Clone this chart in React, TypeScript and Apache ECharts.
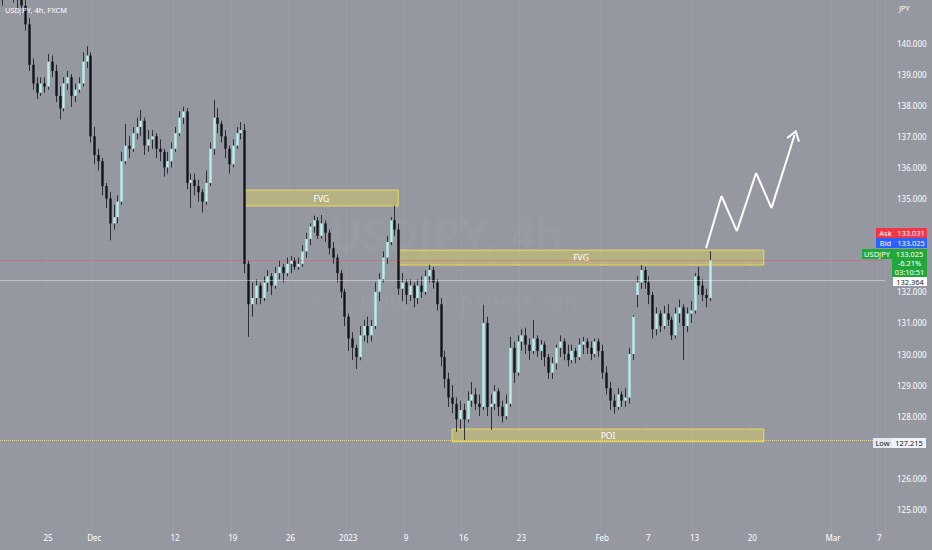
import { useEffect, useRef } from 'react';
import * as echarts from 'echarts';

// USDJPY, 8h bars: [open, close, low, high]
const weekNov21 = [
  [141.4, 141.6, 141.2, 141.9], [141.6, 141.9, 141.5, 142.1], [141.9, 142.0, 141.7, 142.3],
  [142.0, 141.6, 141.3, 142.2], [141.6, 141.4, 141.1, 141.8], [141.4, 141.2, 140.9, 141.5],
  [141.2, 140.6, 140.4, 141.4], [140.6, 139.3, 139.1, 140.8], [139.3, 138.7, 138.5, 139.5],
  [138.7, 138.4, 138.2, 138.9], [138.4, 138.7, 138.3, 138.9], [138.7, 138.6, 138.4, 138.9],
  [138.6, 139.4, 138.5, 139.65], [139.4, 139.1, 138.9, 139.6], [139.1, 138.3, 138.1, 139.3],
];
const weekNov28 = [
  [138.3, 137.9, 137.55, 138.6], [137.9, 138.7, 137.8, 138.9], [138.7, 138.9, 138.5, 139.1],
  [138.9, 138.3, 137.95, 139.0], [138.3, 138.5, 138.1, 138.7], [138.5, 138.7, 138.4, 138.9],
  [138.7, 139.4, 138.6, 139.7], [139.4, 139.6, 139.2, 139.9], [139.6, 137.0, 136.8, 139.7],
  [137.0, 136.4, 136.1, 137.3], [136.4, 136.2, 135.9, 136.6], [136.2, 135.4, 135.1, 136.3],
  [135.4, 135.0, 134.7, 135.5], [135.0, 134.2, 133.65, 135.2], [134.2, 134.4, 134.0, 134.8],
];
const weekDec5 = [
  [134.4, 134.9, 134.2, 135.1], [134.9, 136.2, 134.8, 136.5], [136.2, 136.7, 136.1, 137.4],
  [136.7, 136.6, 136.3, 137.0], [136.6, 137.1, 136.5, 137.3], [137.1, 137.3, 136.9, 137.6],
  [137.3, 137.5, 137.0, 137.85], [137.5, 136.7, 136.4, 137.6], [136.7, 136.9, 136.5, 137.2],
  [136.9, 137.0, 136.6, 137.2], [137.0, 136.6, 136.3, 137.1], [136.6, 136.5, 136.2, 136.9],
  [136.5, 136.0, 135.7, 136.6], [136.0, 136.2, 135.8, 136.5], [136.2, 136.6, 136.0, 136.8],
];
const weekDec12 = [
  [136.6, 137.1, 136.5, 137.3], [137.1, 137.6, 137.0, 137.8], [137.6, 137.8, 137.4, 137.95],
  [137.8, 135.5, 135.3, 137.9], [135.5, 135.6, 134.7, 135.8], [135.6, 135.4, 135.1, 135.8],
  [135.4, 135.2, 134.9, 135.6], [135.2, 134.9, 134.55, 135.3], [134.9, 135.5, 134.8, 135.9],
  [135.5, 136.6, 135.4, 136.8], [136.6, 137.6, 136.4, 138.17], [137.6, 137.4, 137.1, 137.9],
  [137.4, 137.0, 136.8, 137.5], [137.0, 136.6, 136.3, 137.2], [136.6, 136.1, 135.8, 136.7],
];
const weekDec19 = [
  [136.1, 136.7, 136.0, 136.9], [136.7, 137.1, 136.6, 137.3], [137.1, 137.2, 136.9, 137.46],
  [137.2, 132.9, 132.6, 137.4], [132.9, 131.6, 130.55, 133.0], [131.6, 131.8, 131.2, 132.3],
  [131.8, 132.2, 131.6, 132.4], [132.2, 131.8, 131.6, 132.3], [131.8, 132.3, 131.7, 132.5],
  [132.3, 132.5, 132.0, 132.7], [132.5, 132.2, 131.9, 132.6], [132.2, 132.6, 132.1, 132.8],
  [132.6, 132.8, 132.4, 133.0], [132.8, 132.6, 132.3, 132.9], [132.6, 132.9, 132.5, 133.1],
];
const weekDec26 = [
  [132.9, 133.0, 132.6, 133.15], [133.0, 132.8, 132.7, 133.1], [132.8, 132.9, 132.7, 133.1],
  [132.9, 133.3, 132.8, 133.5], [133.3, 133.7, 133.1, 133.9], [133.7, 134.1, 133.5, 134.2],
  [134.1, 134.3, 133.9, 134.45], [134.3, 133.8, 133.7, 134.4], [133.8, 134.2, 133.7, 134.47],
  [134.2, 133.9, 133.6, 134.3], [133.9, 133.4, 133.2, 134.0], [133.4, 133.1, 132.9, 133.6],
  [133.1, 132.6, 132.3, 133.2], [132.6, 132.0, 131.8, 132.7], [132.0, 131.2, 130.9, 132.1],
];
const weekJan2 = [
  [131.2, 130.5, 130.1, 131.3], [130.5, 130.2, 129.8, 130.7], [130.2, 129.9, 129.52, 130.3],
  [129.9, 130.6, 129.8, 130.9], [130.6, 130.9, 130.4, 131.1], [130.9, 130.6, 130.35, 131.2],
  [130.6, 130.9, 130.4, 131.1], [130.9, 132.0, 130.8, 132.3], [132.0, 132.4, 131.7, 132.6],
  [132.4, 133.1, 132.3, 133.3], [133.1, 133.6, 132.9, 133.8], [133.6, 134.3, 133.5, 134.4],
  [134.3, 134.0, 133.8, 134.77], [134.0, 132.1, 131.9, 134.2], [132.1, 132.3, 131.7, 132.6],
];
const weekJan9 = [
  [132.3, 131.9, 131.6, 132.4], [131.9, 132.2, 131.7, 132.4], [132.2, 131.8, 131.5, 132.3],
  [131.8, 132.2, 131.6, 132.4], [132.2, 132.0, 131.8, 132.5], [132.0, 132.5, 131.9, 132.7],
  [132.5, 132.7, 132.3, 132.87], [132.7, 132.3, 132.1, 132.8], [132.3, 131.6, 131.4, 132.4],
  [131.6, 129.9, 129.6, 131.8], [129.9, 129.2, 128.9, 130.1], [129.2, 128.6, 128.3, 129.4],
  [128.6, 128.4, 128.1, 129.0], [128.4, 127.9, 127.5, 128.6], [127.9, 128.2, 127.6, 128.5],
];
const weekJan16 = [
  [128.2, 127.9, 127.215, 128.4], [127.9, 128.5, 127.8, 128.8], [128.5, 128.7, 128.3, 129.1],
  [128.7, 128.4, 128.2, 128.9], [128.4, 128.3, 128.0, 128.7], [128.3, 131.0, 128.2, 131.58],
  [131.0, 128.3, 128.0, 131.2], [128.3, 128.4, 127.56, 128.7], [128.4, 128.8, 128.2, 129.0],
  [128.8, 128.3, 128.0, 128.9], [128.3, 128.0, 127.8, 128.5], [128.0, 128.4, 127.9, 128.7],
  [128.4, 130.2, 128.3, 130.55], [130.2, 129.4, 129.07, 130.4], [129.4, 130.4, 129.3, 130.6],
];
const weekJan23 = [
  [130.4, 130.6, 130.1, 130.8], [130.6, 130.3, 130.0, 130.85], [130.3, 130.1, 129.8, 130.5],
  [130.1, 130.5, 130.0, 131.1], [130.5, 130.1, 129.9, 130.6], [130.1, 130.3, 129.8, 130.45],
  [130.3, 129.9, 129.6, 130.4], [129.9, 129.4, 129.2, 130.0], [129.4, 129.7, 129.2, 129.9],
  [129.7, 130.2, 129.5, 130.3], [130.2, 130.4, 129.9, 130.6], [130.4, 130.0, 129.8, 130.5],
  [130.0, 129.8, 129.6, 130.3], [129.8, 130.1, 129.7, 130.3], [130.1, 129.9, 129.7, 130.2],
];
const weekJan30 = [
  [129.9, 130.3, 129.8, 130.5], [130.3, 130.4, 130.0, 130.55], [130.4, 130.2, 130.0, 130.5],
  [130.2, 130.0, 129.8, 130.4], [130.0, 130.4, 129.9, 130.5], [130.4, 130.1, 129.9, 130.5],
  [130.1, 129.4, 129.2, 130.3], [129.4, 128.9, 128.7, 129.6], [128.9, 128.5, 128.2, 129.1],
  [128.5, 128.3, 128.08, 128.7], [128.3, 128.7, 128.2, 128.9], [128.7, 128.5, 128.3, 128.8],
  [128.5, 128.6, 128.3, 128.9], [128.6, 130.0, 128.4, 130.2], [130.0, 131.2, 129.8, 131.25],
];
const weekFeb6 = [
  [131.9, 132.3, 131.5, 132.5], [132.3, 132.7, 132.1, 132.86], [132.7, 132.3, 132.1, 132.8],
  [132.3, 131.9, 131.6, 132.5], [131.9, 130.8, 130.5, 132.0], [130.8, 131.3, 130.6, 131.5],
  [131.3, 130.9, 130.7, 131.4], [130.9, 131.3, 130.8, 131.55], [131.3, 131.1, 130.9, 131.6],
  [131.1, 130.6, 130.45, 131.2], [130.6, 131.3, 130.5, 131.5], [131.3, 131.5, 131.0, 131.75],
  [131.5, 130.9, 129.8, 131.6], [130.9, 131.3, 130.7, 131.5], [131.3, 131.4, 131.0, 131.7],
];
const weekFeb13 = [
  [131.4, 132.5, 131.3, 132.6], [132.5, 132.2, 131.9, 132.8], [132.2, 131.9, 131.7, 132.4],
  [131.9, 131.8, 131.5, 132.1], [131.8, 133.025, 131.7, 133.3],
];

const candles = [
  ...weekNov21, ...weekNov28, ...weekDec5, ...weekDec12, ...weekDec19, ...weekDec26, ...weekJan2,
  ...weekJan9, ...weekJan16, ...weekJan23, ...weekJan30, ...weekFeb6, ...weekFeb13,
];

// date axis labels: [bar index, label]
const xTicks: [number, string][] = [
  [12, '25'], [24, 'Dec'], [45, '12'], [60, '19'], [75, '26'], [90, '2023'], [105, '9'],
  [120, '16'], [135, '23'], [156, 'Feb'], [168, '7'], [180, '13'], [195, '20'], [216, 'Mar'], [228, '7'],
];

// price labels that sit under the price tags
const hiddenPriceLabels = [127, 133, 134];

// drawn boxes: [label, from bar, to bar, top price, bottom price]
const zones: [string, number, number, number, number][] = [
  ['FVG', 63, 103, 135.27, 134.76],
  ['FVG', 103, 198, 133.34, 132.86],
  ['POI', 117, 198, 127.59, 127.18],
];

// projected path: [bar index, price]
const arrowPath: [number, number][] = [
  [183, 133.4], [187, 135.08], [191, 133.95], [196, 135.82], [200, 134.69], [206, 137.04],
];

const askPrice = 133.031;
const markPrice = 132.364;
const lowPrice = 127.215;

const BAR_SLOTS = 230;
const UP = '#b4f0ec';
const DOWN = '#121317';
const WICK = '#2c2f36';
const FONT = '"Noto Sans", "DejaVu Sans", sans-serif';

// 3 sessions per trading day, weekends skipped
const cats: string[] = [];
{
  const d = new Date(Date.UTC(2022, 10, 21));
  while (cats.length < BAR_SLOTS) {
    const wd = d.getUTCDay();
    if (wd !== 0 && wd !== 6) {
      const s = d.toISOString().slice(0, 10);
      for (let k = 0; k < 3 && cats.length < BAR_SLOTS; k++) cats.push(`${s} ${k * 8}h`);
    }
    d.setUTCDate(d.getUTCDate() + 1);
  }
}
const tickMap = new Map<number, string>(xTicks);

const txt = (x: number, y: number, text: string, size: number, fill: string, align = 'left', extra: any = {}) => ({
  type: 'text',
  x,
  y,
  z: 100,
  style: {
    text, fill, font: `${size}px ${FONT}`,
    align, textAlign: align, verticalAlign: 'middle', textVerticalAlign: 'middle', ...extra,
  },
});

const tag = (x: number, y: number, w: number, h: number, fill: string, text: string, color: string, extra: any = {}) => [
  { type: 'rect', z: 100, shape: { x, y, width: w, height: h }, style: { fill } },
  txt(x + w / 2, y + h / 2, text, 7.5, color, 'center', extra),
];

const chevron = 'path://M5,0 L10,9 L8.8,10 L5,3 L1.2,10 L0,9 Z';

export default function App() {
  const ref = useRef<HTMLDivElement>(null);

  useEffect(() => {
    document.body.style.margin = '0';
    if (!ref.current) return;
    const chart = echarts.init(ref.current, undefined, { renderer: 'svg' });

    const renderCandle = (_params: any, api: any) => {
      const i = api.value(0);
      const o = api.value(1);
      const c = api.value(2);
      const pO = api.coord([i, o]);
      const pC = api.coord([i, c]);
      const pL = api.coord([i, api.value(3)]);
      const pH = api.coord([i, api.value(4)]);
      const w = api.size([1, 0])[0] * 0.62;
      const x = Math.round(pO[0]) + 0.5;
      const top = Math.min(pO[1], pC[1]);
      const bh = Math.max(Math.abs(pO[1] - pC[1]), 1);
      return {
        type: 'group',
        children: [
          { type: 'line', shape: { x1: x, y1: pH[1], x2: x, y2: pL[1] }, style: { stroke: WICK, lineWidth: 1 } },
          { type: 'rect', shape: { x: x - w / 2, y: top, width: w, height: bh }, style: { fill: c >= o ? UP : DOWN } },
        ],
      };
    };

    const zoneStyle = { color: 'rgba(255,235,59,0.3)', borderColor: 'rgba(250,228,80,0.85)', borderWidth: 1 };
    const areaData = zones.map(([label, from, to, top, bottom]) => [
      {
        name: label,
        coord: [cats[from], top],
        itemStyle: zoneStyle,
        label: { show: true, position: 'inside', color: '#ffffff', fontSize: 8.5, fontFamily: FONT },
      },
      { coord: [cats[to], bottom] },
    ]);

    const arrowLines = arrowPath.slice(1).map((p, k) => [
      { coord: [cats[arrowPath[k][0]], arrowPath[k][1]], symbol: 'none', lineStyle: { color: '#ffffff', width: 2, type: 'solid' } },
      {
        coord: [cats[p[0]], p[1]],
        symbol: k === arrowPath.length - 2 ? chevron : 'none',
        symbolSize: [14, 11],
        itemStyle: { color: '#ffffff' },
      },
    ]);

    chart.setOption({
      animation: false,
      backgroundColor: '#9598a1',
      textStyle: { fontFamily: FONT },
      grid: { left: -2, right: 47, top: 0, bottom: 9.4 },
      xAxis: {
        type: 'category',
        data: cats,
        boundaryGap: true,
        offset: -12,
        axisLine: { show: false },
        axisTick: { show: false },
        axisLabel: {
          interval: (i: number) => tickMap.has(i),
          formatter: (_v: string, i: number) => tickMap.get(i) ?? '',
          color: '#ffffff',
          fontSize: 8,
          margin: 5,
        },
        splitLine: {
          show: true,
          interval: (i: number) => tickMap.has(i),
          lineStyle: { color: 'rgba(255,255,255,0.05)' },
        },
      },
      yAxis: {
        type: 'value',
        position: 'right',
        min: 124,
        max: 141.383,
        interval: 1,
        axisLine: { show: false },
        axisTick: { show: false },
        splitLine: { show: false },
        axisLabel: {
          color: '#ffffff',
          fontSize: 8,
          margin: 12,
          formatter: (v: number) =>
            v >= 125 && v <= 140 && Number.isInteger(v) && !hiddenPriceLabels.includes(v) ? v.toFixed(3) : '',
        },
      },
      series: [
        {
          type: 'custom',
          renderItem: renderCandle,
          encode: { x: 0, y: [1, 2, 3, 4] },
          data: candles.map((c, i) => [i, ...c]),
          markArea: { silent: true, data: areaData },
          markLine: {
            silent: true,
            symbol: ['none', 'none'],
            label: { show: false },
            data: [
              { yAxis: askPrice, lineStyle: { color: 'rgba(242,54,69,0.3)', width: 1, type: 'solid' } },
              { yAxis: markPrice, lineStyle: { color: 'rgba(255,255,255,0.4)', width: 1, type: 'solid' } },
              { yAxis: lowPrice, lineStyle: { color: 'rgba(240,222,120,0.9)', width: 1, type: 'dotted' } },
              ...arrowLines,
            ],
          },
        },
      ],
      graphic: [
        // watermark
        { type: 'text', x: 446, y: 234, z: 0, style: { text: 'USDJPY, 4h', fill: 'rgba(255,255,255,0.05)', font: `bold 44px ${FONT}`, align: 'center', textAlign: 'center', verticalAlign: 'middle', textVerticalAlign: 'middle' } },
        { type: 'text', x: 446, y: 300, z: 0, style: { text: 'U.S. Dollar / Japanese Yen', fill: 'rgba(255,255,255,0.05)', font: `22px ${FONT}`, align: 'center', textAlign: 'center', verticalAlign: 'middle', textVerticalAlign: 'middle' } },
        txt(5, 10, 'USDJPY, 4h, FXCM', 7.5, '#ffffff'),
        txt(899, 8, 'JPY', 7.5, '#ffffff'),
        ...tag(876, 228, 19, 10, '#f23645', 'Ask', '#ffffff'),
        ...tag(895, 228, 32, 10, '#f23645', '133.031', '#ffffff'),
        ...tag(876, 238, 19, 10, '#2962ff', 'Bid', '#ffffff'),
        ...tag(895, 238, 32, 10, '#2962ff', '133.025', '#ffffff'),
        ...tag(862, 249, 30, 10, '#22a83a', 'USDJPY', '#ffffff'),
        ...tag(892, 249, 35, 28, '#22a83a', '133.025\n-6.21%\n03:10:51', '#ffffff', { lineHeight: 9.2 }),
        ...tag(893, 277, 34, 9, '#ffffff', '132.364', '#131722'),
        ...tag(873, 438, 19, 10, '#e3e9f4', 'Low', '#131722'),
        ...tag(892, 438, 34, 10, '#f0f3fa', '127.215', '#131722'),
      ],
    });

    return () => chart.dispose();
  }, []);

  return <div ref={ref} style={{ width: 932, height: 550 }} />;
}
